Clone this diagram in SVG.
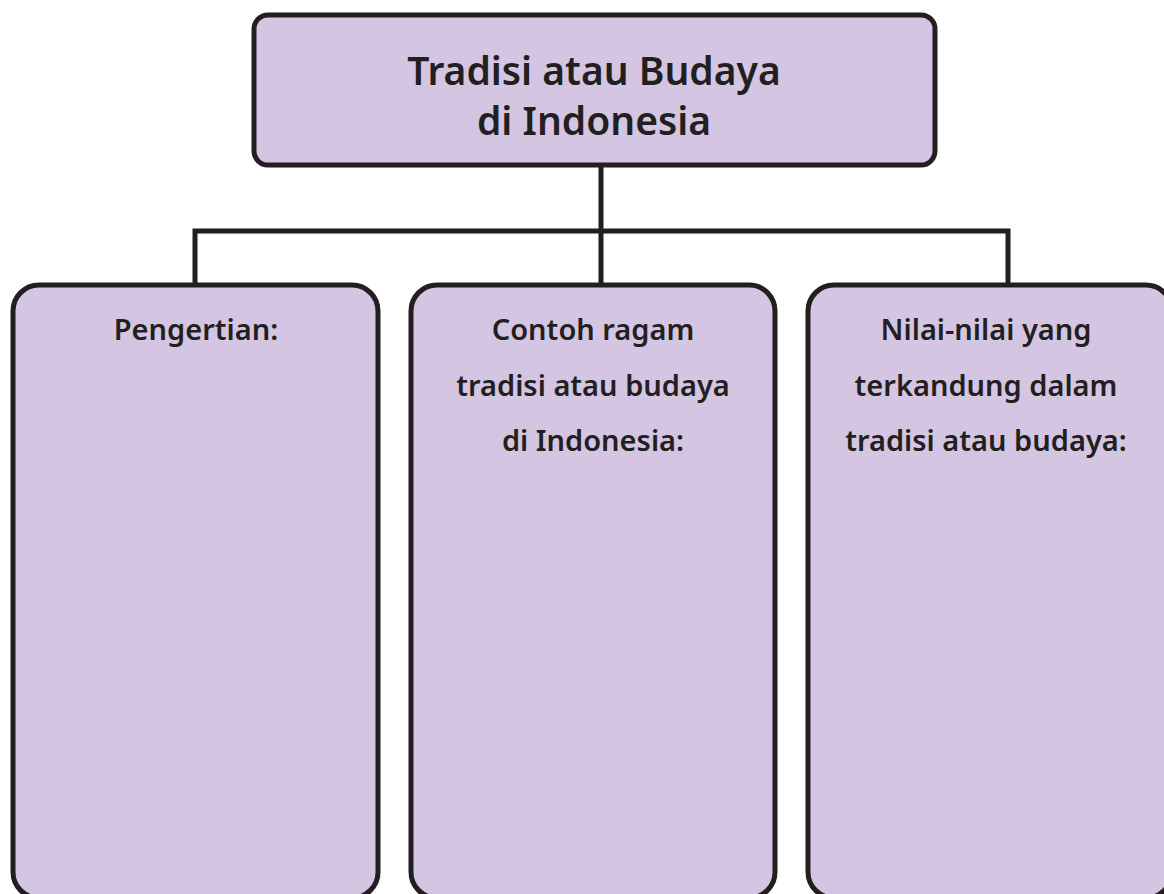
<svg xmlns="http://www.w3.org/2000/svg" width="1164" height="894" viewBox="0 0 1164 894">
<style>
.box{fill:#d4c5e2;stroke:#231f20;stroke-width:5}
.t{font-family:"Noto Sans","Liberation Sans",sans-serif;font-weight:600;fill:#231f20;text-anchor:middle}
.title{font-size:39px}
.sub{font-size:29px}
.conn{fill:none;stroke:#231f20;stroke-width:5;stroke-linejoin:miter}
</style>
<rect width="1164" height="894" fill="#ffffff"/>
<g id="connectors">
<path class="conn" d="M601 165 V231 M195 285 V231 H1008 V285 M601 231 V285"/>
</g>
<g id="top">
<rect class="box" x="254" y="15" width="681" height="150" rx="14"/>
<text class="t title" x="594" y="85">Tradisi atau Budaya</text>
<text class="t title" x="594" y="135">di Indonesia</text>
</g>
<g id="pengertian">
<rect class="box" x="13" y="285" width="365" height="613" rx="26"/>
<text class="t sub" x="196" y="340">Pengertian:</text>
</g>
<g id="contoh">
<rect class="box" x="411" y="285" width="364" height="613" rx="26"/>
<text class="t sub" x="593" y="340">Contoh ragam</text>
<text class="t sub" x="593" y="396">tradisi atau budaya</text>
<text class="t sub" x="593" y="451">di Indonesia:</text>
</g>
<g id="nilai">
<rect class="box" x="808" y="285" width="364" height="613" rx="26"/>
<text class="t sub" x="986" y="340">Nilai-nilai yang</text>
<text class="t sub" x="986" y="396">terkandung dalam</text>
<text class="t sub" x="986" y="451">tradisi atau budaya:</text>
</g>
</svg>
